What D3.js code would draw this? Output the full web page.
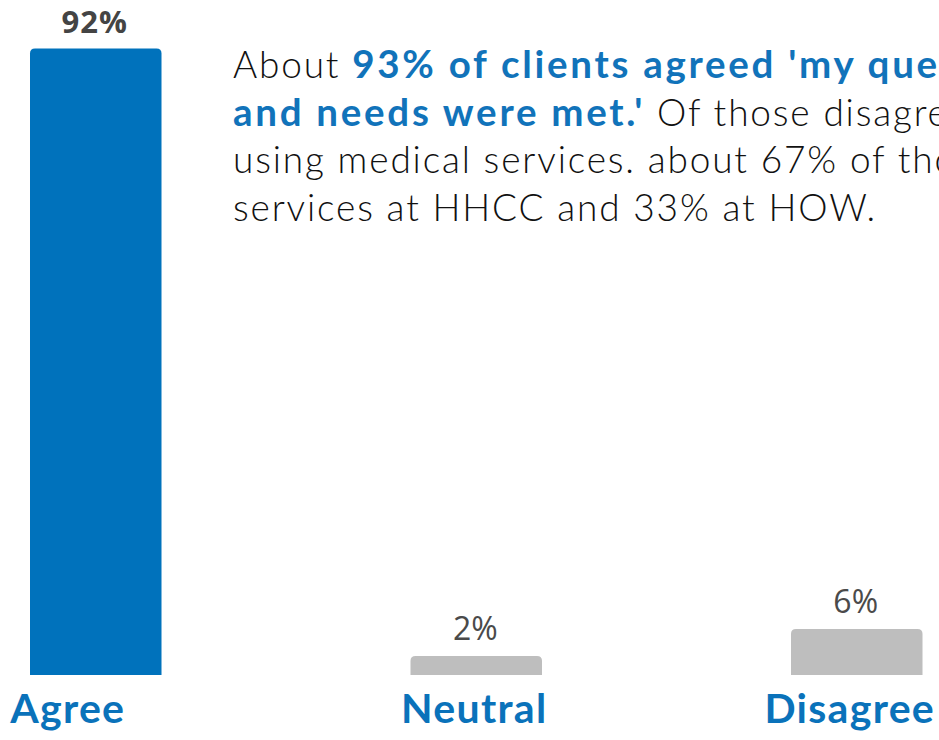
<!DOCTYPE html>
<html>
<head>
<meta charset="utf-8">
<script src="https://cdn.jsdelivr.net/npm/d3@7"></script>
<style>
  html, body { margin: 0; padding: 0; background: #fff; overflow: hidden; }
  svg { display: block; }
</style>
</head>
<body>
<svg id="chart" width="939" height="740"></svg>
<script>
// Survey responses
const categories = ["Agree", "Neutral", "Disagree"];
const values = [92, 2, 6];
const valueLabels = ["92%", "2%", "6%"];

// Headline note, split into styled runs per line
const noteLines = [
  [["About ", false], ["93% of clients agreed 'my questions", true]],
  [["and needs were met.'", true], [" Of those disagreeing,", false]],
  [["using medical services. about 67% of those", false]],
  [["services at HHCC and 33% at HOW.", false]]
];

const W = 939, H = 740;
const svg = d3.select("#chart");

const blue = "#0072BC";
const grey = "#BEBEBE";

const x = d3.scaleBand()
  .domain(categories)
  .range([30, 922.5])
  .paddingInner(0.6544)
  .paddingOuter(0);

const y = d3.scaleLinear()
  .domain([0, 92])
  .range([669.5, 48.5]);

const stub = 5.5;   // bars run slightly past the zero line
const r = 5;        // top corner radius

function topRounded(x0, y0, w, h, rr) {
  const p = d3.path();
  p.moveTo(x0, y0 + h);
  p.lineTo(x0, y0 + rr);
  p.quadraticCurveTo(x0, y0, x0 + rr, y0);
  p.lineTo(x0 + w - rr, y0);
  p.quadraticCurveTo(x0 + w, y0, x0 + w, y0 + rr);
  p.lineTo(x0 + w, y0 + h);
  p.closePath();
  return p.toString();
}

const data = categories.map((c, i) => ({ c, v: values[i], label: valueLabels[i], i }));

svg.append("g").selectAll("path")
  .data(data)
  .join("path")
  .attr("d", d => {
    const top = y(d.v);
    return topRounded(x(d.c), top, x.bandwidth(), y(0) + stub - top, r);
  })
  .attr("fill", d => d.i === 0 ? blue : grey);

// value labels above each bar
svg.append("g").selectAll("text")
  .data(data)
  .join("text")
  .attr("x", d => x(d.c) + x.bandwidth() / 2 - 1)
  .attr("y", d => y(d.v) - 16)
  .attr("text-anchor", "middle")
  .attr("font-family", "'Open Sans', sans-serif")
  .attr("font-size", d => d.i === 0 ? 31 : 32)
  .attr("letter-spacing", d => d.i === 0 ? 1 : 0)
  .attr("font-weight", d => d.i === 0 ? 700 : 400)
  .attr("fill", d => d.i === 0 ? "#444" : "#4a4a4a")
  .text(d => d.label);

// category axis labels
const labelShift = [-28, -2, -7];
svg.append("g").selectAll("text")
  .data(data)
  .join("text")
  .attr("x", d => x(d.c) + x.bandwidth() / 2 + labelShift[d.i])
  .attr("y", 723)
  .attr("text-anchor", "middle")
  .attr("font-family", "Lato, sans-serif")
  .attr("font-size", 41)
  .attr("letter-spacing", 1.3)
  .attr("font-weight", 700)
  .attr("fill", "#0A72BA")
  .text(d => d.c);

// annotation
const note = svg.append("g")
  .attr("font-family", "Lato, sans-serif")
  .attr("font-size", 37)
  .attr("fill", "#111");

const noteTexts = noteLines.map((runs, li) => {
  const t = note.append("text")
    .attr("x", 233)
    .attr("y", 78 + li * 47.7);
  runs.forEach(run => {
    t.append("tspan")
      .attr("class", run[1] ? "strong" : "plain")
      .attr("font-weight", run[1] ? 700 : 300)
      .attr("font-size", run[1] ? 38.5 : 37)
      .attr("fill", run[1] ? "#1173BA" : "#111")
      .text(run[0]);
  });
  return t;
});

// open up tracking: light runs sized by the closing line, bold runs by the
// opening bold phrase of line two
function track(tspan, target) {
  const w = tspan.node().getComputedTextLength();
  const n = tspan.text().length;
  return Math.max(0, (target - w) / n);
}
const plainSpacing = track(noteTexts[3].select("tspan"), 644);
const strongSpacing = track(noteTexts[1].select("tspan"), 412);
note.selectAll("tspan.plain").attr("letter-spacing", plainSpacing);
note.selectAll("tspan.strong").attr("letter-spacing", strongSpacing);
</script>
</body>
</html>
